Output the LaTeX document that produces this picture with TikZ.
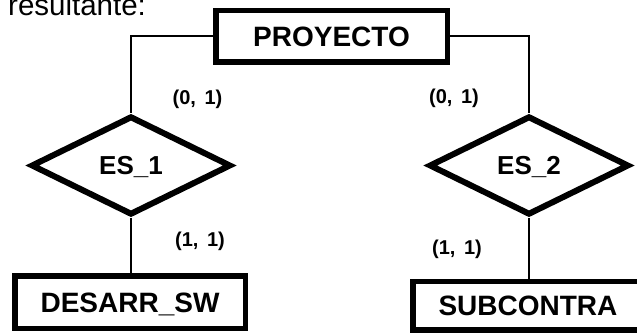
\documentclass[tikz,border=0pt]{standalone}
\usepackage{fontspec}
\setmainfont{Liberation Sans}
\usetikzlibrary{shapes.geometric}
\begin{document}
\begin{tikzpicture}[x=1pt,y=-1pt,
  ent/.style={draw, line width=5.5pt, inner sep=0pt, text height=20pt, text depth=0pt,
              font=\bfseries\fontsize{28}{30}\selectfont},
  rel/.style={draw, diamond, line width=6pt, inner sep=0pt, minimum width=200pt,
              minimum height=99pt, text height=18.5pt, text depth=0pt,
              font=\bfseries\fontsize{26}{28}\selectfont},
  conn/.style={line width=2pt},
  card/.style={inner sep=0pt, font=\bfseries\fontsize{20}{22}\selectfont}]
\useasboundingbox (0,0) rectangle (637,334);
\node[anchor=base west, inner sep=0pt, font=\fontsize{29.5}{32}\selectfont] (res) at (8,15.5) {resultante:};
\node[ent, minimum width=231.5pt, minimum height=51.5pt] (p) at (331.5,36.5) {PROYECTO};
\node[rel] (e1) at (131,165.5) {ES\_1};
\node[rel] (e2) at (529,165.5) {ES\_2};
\node[ent, minimum width=230.5pt, minimum height=52.5pt] (d) at (130,302) {DESARR\_SW};
\node[ent, minimum width=230.5pt, minimum height=48.5pt] (s) at (528,305.5) {SUBCONTRA};
\node[card] (c1) at (197.5,99) {(0,\hspace{3pt} 1)};
\node[card] (c2) at (454,98) {(0,\hspace{3pt} 1)};
\node[card] (c3) at (200,241) {(1,\hspace{3pt} 1)};
\node[card] (c4) at (457,249.5) {(1,\hspace{3pt} 1)};
\draw[conn] (p.west) -| (e1.north);
\draw[conn] (p.east) -| (e2.north);
\draw[conn] (e1.south) -- (e1.south |- d.north);
\draw[conn] (e2.south) -- (e2.south |- s.north);
\end{tikzpicture}
\end{document}
